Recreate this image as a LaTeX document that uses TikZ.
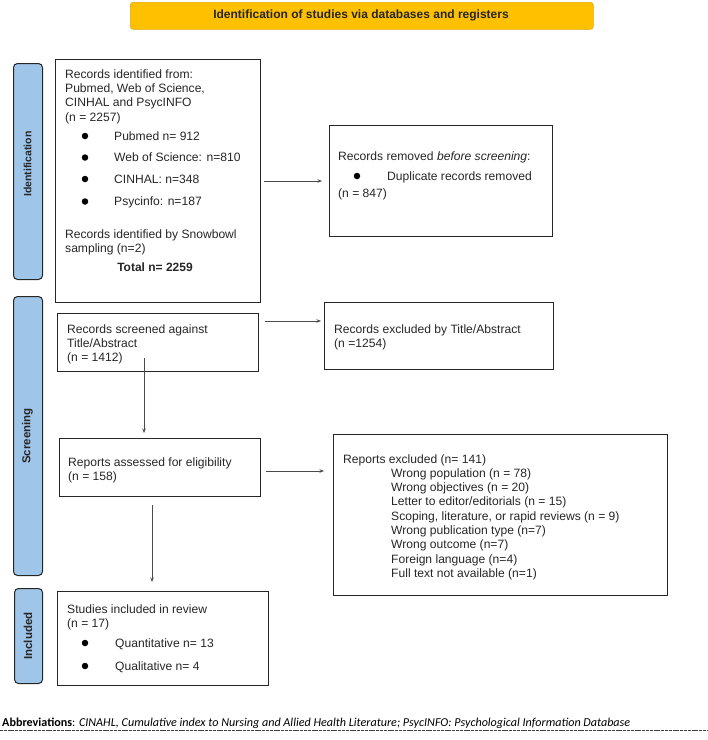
\documentclass[tikz,border=0pt]{standalone}
\usepackage{fontspec}
\usepackage{graphicx}
\setmainfont{Liberation Sans}
\newfontfamily\calibri{Carlito}
\usetikzlibrary{arrows.meta}
\definecolor{titlefill}{HTML}{FFC000}
\definecolor{titledraw}{HTML}{E0A800}
\definecolor{barfill}{HTML}{9FC5E8}
\definecolor{ink}{HTML}{262626}
\begin{document}
\begin{tikzpicture}[x=1pt,y=-1pt,
  box/.style={draw=ink, line width=1pt, inner sep=0, anchor=north west},
  bar/.style={draw=black!85, fill=barfill, rounded corners=4pt, line width=1pt, inner sep=0, anchor=north west},
  txt/.style={anchor=base west, inner sep=0, text=ink, font=\fontsize{12.1}{14.4}\selectfont},
  bul/.style={circle, fill=black, inner sep=0, minimum size=6.5pt},
  side/.style={rotate=90, font=\bfseries\fontsize{11.5}{13}\selectfont, text=ink, inner sep=0},
  arr/.style={draw=black!70, line width=0.7pt, -{Stealth[length=4.5pt,width=3.5pt]}}]
\useasboundingbox (0,0) rectangle (708,740);

% title
\node[draw=titledraw, fill=titlefill, rounded corners=3pt, line width=0.6pt, inner sep=0,
      anchor=north west, minimum width=463pt, minimum height=27pt] (title) at (130,2) {};
\node[font=\bfseries\fontsize{12}{14}\selectfont, text=ink, inner sep=0] (titletext) at (361,15.5)
  {Identification of studies via databases and registers};

% side bars
\node[bar, minimum width=29pt, minimum height=216pt] (idbar) at (13,63) {};
\node[bar, minimum width=29pt, minimum height=279pt] (scbar) at (13,296) {};
\node[bar, minimum width=28pt, minimum height=95pt] (inbar) at (14,588) {};
\node[side, font=\bfseries\fontsize{10.5}{12}\selectfont] (idlab) at (27.5,164) {Identification};
\node[side] (sclab) at (27.5,436) {Screening};
\node[side] (inlab) at (28,636) {Included};

% boxes
\node[box, minimum width=205pt, minimum height=243pt] (idb) at (55,59) {};
\node[box, minimum width=223pt, minimum height=111pt] (rem) at (329,125) {};
\node[box, minimum width=201pt, minimum height=58pt] (scr) at (57,313) {};
\node[box, minimum width=229pt, minimum height=67pt] (exc) at (324,302) {};
\node[box, minimum width=201pt, minimum height=58pt] (ass) at (59,438) {};
\node[box, minimum width=334pt, minimum height=161pt] (rex) at (333,434) {};
\node[box, minimum width=211pt, minimum height=94pt] (inc) at (57,591) {};

% identification box text
\node[txt] (i1) at (65,78) {Records identified from:};
\node[txt] (i2) at (65,92.4) {Pubmed, Web of Science,};
\node[txt] (i3) at (65,106.8) {CINHAL and PsycINFO};
\node[txt] (i4) at (65,121.2) {(n = 2257)};
\node[bul] (ib1) at (85,136) {};
\node[bul] (ib2) at (85,157.5) {};
\node[bul] (ib3) at (85,179) {};
\node[bul] (ib4) at (85,201.5) {};
\node[txt] (i5) at (114,140) {Pubmed n= 912};
\node[txt] (i6) at (114,161.5) {Web of Science: n=810};
\node[txt] (i7) at (114,183) {CINHAL: n=348};
\node[txt] (i8) at (114,205.5) {Psycinfo: n=187};
\node[txt] (i9) at (65,238) {Records identified by Snowbowl};
\node[txt] (i10) at (65,252.5) {sampling (n=2)};
\node[txt, anchor=base, font=\bfseries\fontsize{12}{14.4}\selectfont] (i11) at (155,271) {Total n= 2259};

% removed box text
\node[txt] (r1) at (338,160) {Records removed \textit{before screening}:};
\node[bul] (rb1) at (357,176) {};
\node[txt] (r2) at (387,180) {Duplicate records removed};
\node[txt] (r3) at (338,197) {(n = 847)};

% screened box text
\node[txt] (s1) at (67,333) {Records screened against};
\node[txt] (s2) at (67,347.4) {Title/Abstract};
\node[txt] (s3) at (67,361.8) {(n = 1412)};

% excluded box text
\node[txt] (e1) at (334,333) {Records excluded by Title/Abstract};
\node[txt] (e2) at (334,347.4) {(n =1254)};

% assessed box text
\node[txt] (a1) at (68,466) {Reports assessed for eligibility};
\node[txt] (a2) at (68,480.4) {(n = 158)};

% reports excluded text
\node[txt] (x0) at (343,463) {Reports excluded (n= 141)};
\node[txt] (x1) at (391,477.3) {Wrong population (n = 78)};
\node[txt] (x2) at (391,491.6) {Wrong objectives (n = 20)};
\node[txt] (x3) at (391,505.9) {Letter to editor/editorials (n = 15)};
\node[txt] (x4) at (391,520.2) {Scoping, literature, or rapid reviews (n = 9)};
\node[txt] (x5) at (391,534.5) {Wrong publication type (n=7)};
\node[txt] (x6) at (391,548.8) {Wrong outcome (n=7)};
\node[txt] (x7) at (391,563.1) {Foreign language (n=4)};
\node[txt] (x8) at (391,577.4) {Full text not available (n=1)};

% included box text
\node[txt] (n1) at (67,613) {Studies included in review};
\node[txt] (n2) at (67,627.4) {(n = 17)};
\node[bul] (nb1) at (85,643) {};
\node[bul] (nb2) at (85,666) {};
\node[txt] (n3) at (115,647) {Quantitative n= 13};
\node[txt] (n4) at (115,670) {Qualitative n= 4};

% connectors
\draw[arr, shorten <=3pt, shorten >=7pt] (idb.east |- rem.west) -- (rem.west);
\coordinate (c2) at (265,321);
\draw[arr, shorten >=3pt] (c2) -- (c2 -| exc.west);
\coordinate (c3) at (144,358);
\draw[arr, shorten >=5pt] (c3) -- (c3 |- ass.north);
\coordinate (c4) at (266,471);
\draw[arr, shorten >=9pt] (c4) -- (c4 -| rex.west);
\coordinate (c5) at (152,505);
\draw[arr, shorten >=9pt] (c5) -- (c5 |- inc.north);

% abbreviations
\node[anchor=base west, inner sep=0, text=black, font=\calibri\fontsize{12.1}{14}\selectfont] (abbr) at (2,726)
  {\textbf{Abbreviations}: \textit{CINAHL, Cumulative index to Nursing and Allied Health Literature; PsycINFO: Psychological Information Database}};
\coordinate (dl) at (0,730);
\coordinate (dr) at (708,730);
\draw[black!75, line width=0.9pt, dash pattern=on 3pt off 0.8pt] (dl) -- (dr);
\end{tikzpicture}
\end{document}
